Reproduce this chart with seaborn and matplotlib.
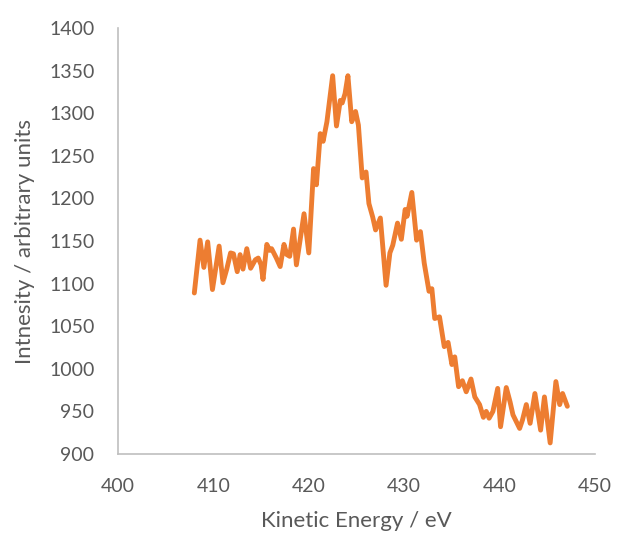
import matplotlib
matplotlib.use("Agg")
import matplotlib.pyplot as plt
import seaborn as sns
import pandas as pd

# values
kinetic_energy = [408.0, 408.6, 409.0, 409.4, 409.9, 410.6, 411.0, 411.4, 411.8, 412.1,
                  412.5, 412.8, 413.1, 413.5, 413.9, 414.4, 414.7, 415.0, 415.2, 415.6,
                  415.9, 416.1, 416.6, 417.0, 417.4, 417.7, 418.0, 418.4, 418.7, 419.5,
                  420.0, 420.5, 420.8, 421.2, 421.5, 421.9, 422.5, 422.9, 423.3, 423.5,
                  423.8, 424.1, 424.5, 424.9, 425.2, 425.6, 426.0, 426.3, 426.7, 427.0,
                  427.5, 428.1, 428.5, 428.8, 429.3, 429.7, 430.1, 430.3, 430.8, 431.3,
                  431.7, 432.1, 432.6, 432.9, 433.2, 433.7, 434.2, 434.6, 435.0, 435.3,
                  435.7, 436.1, 436.5, 437.0, 437.4, 437.9, 438.3, 438.6, 438.9, 439.3,
                  439.8, 440.1, 440.7, 441.1, 441.4, 442.1, 442.4, 442.8, 443.2, 443.7,
                  444.3, 444.7, 445.3, 445.9, 446.3, 446.6, 447.1]
intensity = [1089, 1151, 1119, 1149, 1093, 1144, 1101, 1117, 1136, 1135,
             1114, 1134, 1117, 1141, 1118, 1128, 1130, 1122, 1105, 1146,
             1139, 1141, 1130, 1120, 1146, 1134, 1132, 1164, 1122, 1182,
             1136, 1235, 1216, 1276, 1267, 1290, 1344, 1285, 1315, 1312,
             1323, 1344, 1290, 1302, 1286, 1224, 1231, 1194, 1178, 1163,
             1177, 1098, 1136, 1145, 1171, 1152, 1187, 1179, 1207, 1151,
             1161, 1124, 1091, 1094, 1059, 1061, 1026, 1031, 1005, 1014,
             979, 986, 973, 988, 967, 958, 943, 950, 942, 950,
             977, 932, 978, 961, 946, 930, 940, 958, 936, 971,
             928, 967, 913, 985, 958, 971, 956]

x_ticks = [400, 410, 420, 430, 440, 450]
y_ticks = [900, 950, 1000, 1050, 1100, 1150, 1200, 1250, 1300, 1350, 1400]

df = pd.DataFrame({'energy': kinetic_energy, 'intensity': intensity})

sns.set_theme(style='white')
plt.rcParams['font.family'] = ['Lato', 'DejaVu Sans']

TEXT = '#595959'
SPINE = '#BFBFBF'

fig = plt.figure(figsize=(6.17, 5.43), dpi=100)
ax = fig.add_axes([118 / 617, 89 / 543, 477 / 617, 426 / 543])

sns.lineplot(data=df, x='energy', y='intensity', ax=ax, color='#ED7D31',
             linewidth=3.5, sort=False, estimator=None)
for line in ax.lines:
    line.set_solid_capstyle('round')
    line.set_solid_joinstyle('round')

ax.set_xlim(400, 450)
ax.set_ylim(900, 1400)
ax.set_xticks(x_ticks)
ax.set_yticks(y_ticks)

ax.spines['top'].set_visible(False)
ax.spines['right'].set_visible(False)
for side in ['left', 'bottom']:
    ax.spines[side].set_color(SPINE)
    ax.spines[side].set_linewidth(1.2)

ax.tick_params(axis='both', length=0, labelsize=14, labelcolor=TEXT)
ax.tick_params(axis='x', pad=17)
ax.tick_params(axis='y', pad=17)

ax.set_xlabel('Kinetic Energy / eV', fontsize=16, color=TEXT, labelpad=12)
ax.set_ylabel('Intnesity / arbitrary units', fontsize=16, color=TEXT, labelpad=10)

plt.savefig('out.png', dpi=100)
plt.close()
